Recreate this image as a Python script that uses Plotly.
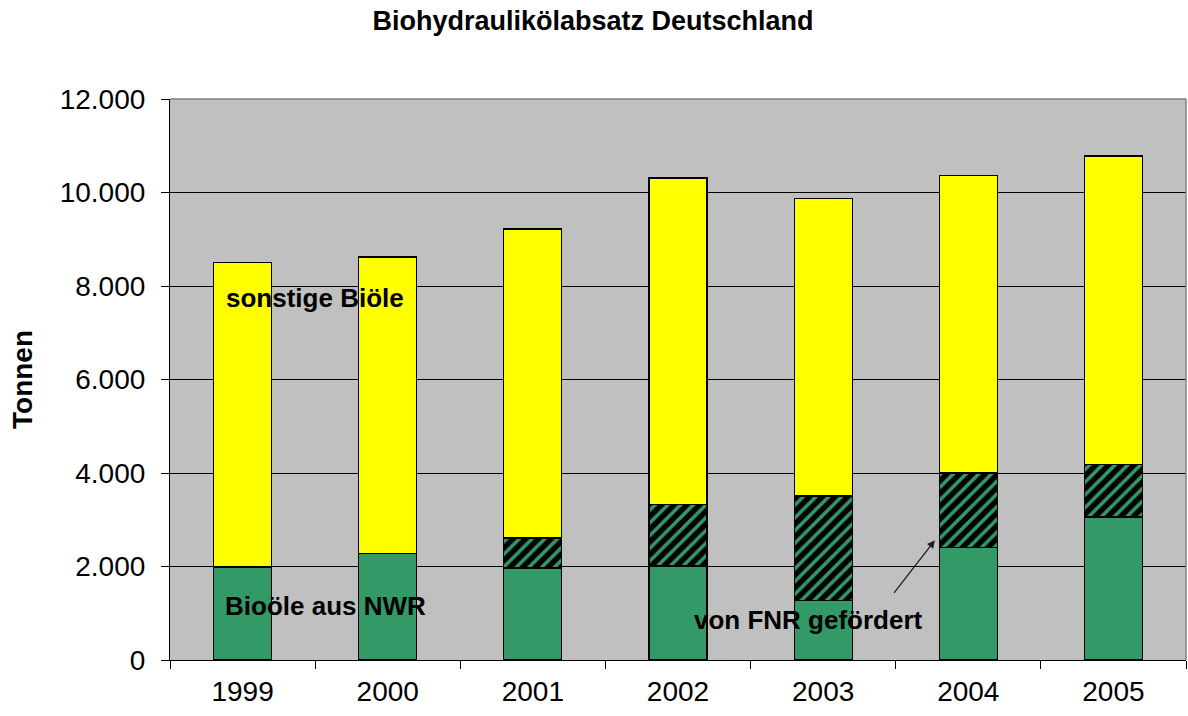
import plotly.graph_objects as go

# Absatz von Biohydraulikölen in Deutschland (Tonnen)
jahre = ["1999", "2000", "2001", "2002", "2003", "2004", "2005"]
nwr_basis = [1990, 2270, 1970, 2010, 1280, 2400, 3060]      # Bioöle aus NWR (ohne Förderung)
fnr_gefoerdert = [0, 0, 640, 1310, 2230, 1600, 1130]        # von FNR gefördert
sonstige = [6520, 6350, 6610, 6990, 6370, 6370, 6590]       # sonstige Bioöle

GRUEN = "#339966"
GELB = "#FFFF00"
GRAU = "#C0C0C0"
FONT = "Liberation Sans, Arial, sans-serif"

fig = go.Figure()

fig.add_trace(go.Bar(
    x=jahre, y=nwr_basis, name="Bioöle aus NWR",
    marker=dict(color=GRUEN, line=dict(color="#000000", width=1.2)),
    width=0.4,
))
fig.add_trace(go.Bar(
    x=jahre, y=fnr_gefoerdert, name="von FNR gefördert",
    marker=dict(
        color="#000000",
        line=dict(color="#000000", width=1.2),
        pattern=dict(shape="/", bgcolor="#000000", fgcolor=GRUEN,
                     size=9, solidity=0.4, fillmode="replace"),
    ),
    width=0.4,
))
fig.add_trace(go.Bar(
    x=jahre, y=sonstige, name="sonstige Biöle",
    marker=dict(color=GELB, line=dict(color="#000000", width=1.2)),
    width=0.4,
))

fig.update_layout(
    width=1188, height=716,
    barmode="stack",
    bargap=0.6,
    showlegend=False,
    separators=",.",
    paper_bgcolor="#FFFFFF",
    plot_bgcolor=GRAU,
    margin=dict(l=170, r=2, t=99, b=56),
    font=dict(family=FONT, color="#000000"),
    title=dict(
        text="<b>Biohydraulikölabsatz Deutschland</b>",
        x=593 / 1188, xanchor="center", xref="container",
        y=1 - 21 / 716, yanchor="middle", yref="container",
        font=dict(size=27, family=FONT, color="#000000"),
    ),
    xaxis=dict(
        type="category",
        showgrid=False,
        showline=True, linecolor="#000000", linewidth=1.2,
        ticks="outside", ticklen=8, tickcolor="#000000",
        tickson="boundaries",
        ticklabelstandoff=6,
        tickfont=dict(size=28, family=FONT, color="#000000"),
        zeroline=False,
    ),
    yaxis=dict(
        range=[0, 12000],
        dtick=2000,
        tickformat=",d",
        showgrid=True, gridcolor="#000000", gridwidth=1,
        showline=True, linecolor="#000000", linewidth=1.2,
        ticks="outside", ticklen=8, tickcolor="#000000",
        ticklabelstandoff=10,
        tickfont=dict(size=28, family=FONT, color="#000000"),
        zeroline=False,
        title=dict(text="<b>Tonnen</b>", font=dict(size=28, family=FONT, color="#000000"),
                   standoff=18),
    ),
)

# Rahmen des Diagrammbereichs oben und rechts
fig.add_shape(type="line", xref="paper", yref="paper", x0=0, x1=1, y0=1, y1=1,
              line=dict(color="#808080", width=1.5), layer="above")
fig.add_shape(type="line", xref="paper", yref="paper", x0=1, x1=1, y0=0, y1=1,
              line=dict(color="#808080", width=1.5), layer="above")

beschriftung = dict(size=26, family=FONT, color="#000000")
fig.add_annotation(x=0.5, y=7740, xref="x", yref="y", text="<b>sonstige Biöle</b>",
                   showarrow=False, font=beschriftung)
fig.add_annotation(x=0.57, y=1160, xref="x", yref="y", text="<b>Bioöle aus NWR</b>",
                   showarrow=False, font=beschriftung)
fig.add_annotation(x=3.9, y=860, xref="x", yref="y", text="<b>von FNR gefördert</b>",
                   showarrow=False, font=beschriftung)
# Pfeil zum geförderten Anteil 2004
fig.add_annotation(x=4.77, y=2560, xref="x", yref="y", text="",
                   showarrow=True, arrowhead=2, arrowsize=1.2, arrowwidth=1.3,
                   arrowcolor="#202020", ax=-42, ay=54)

fig.write_html("out.html")
